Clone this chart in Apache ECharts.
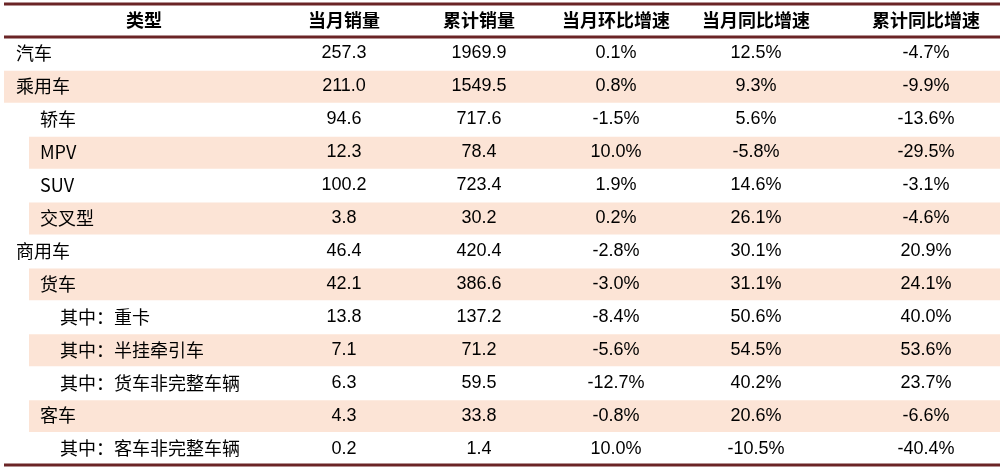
<!DOCTYPE html><html><head><meta charset="utf-8">
<script src="https://cdn.jsdelivr.net/npm/echarts@6/dist/echarts.min.js"></script>
<style>html,body{margin:0;padding:0;background:#fff}#c{width:1007px;height:473px}</style></head><body><div id="c"></div>
<script>
const headers=['类型','当月销量','累计销量','当月环比增速','当月同比增速','累计同比增速'];
const categories=['汽车','乘用车','轿车','MPV','SUV','交叉型','商用车','货车','其中：重卡','其中：半挂牵引车','其中：货车非完整车辆','客车','其中：客车非完整车辆'];
const levels=[0,0,1,1,1,1,0,1,2,2,2,1,2];
const monthSales=['257.3','211.0','94.6','12.3','100.2','3.8','46.4','42.1','13.8','7.1','6.3','4.3','0.2'];
const cumSales=['1969.9','1549.5','717.6','78.4','723.4','30.2','420.4','386.6','137.2','71.2','59.5','33.8','1.4'];
const momGrowth=['0.1%','0.8%','-1.5%','10.0%','1.9%','0.2%','-2.8%','-3.0%','-8.4%','-5.6%','-12.7%','-0.8%','10.0%'];
const yoyGrowth=['12.5%','9.3%','5.6%','-5.8%','14.6%','26.1%','30.1%','31.1%','50.6%','54.5%','40.2%','20.6%','-10.5%'];
const cumYoy=['-4.7%','-9.9%','-13.6%','-29.5%','-3.1%','-4.6%','20.9%','24.1%','40.0%','53.6%','23.7%','-6.6%','-40.4%'];
const colCenters=[140,340,475,612,752,922];
const rows=['header'].concat(categories);
const ch=echarts.init(document.getElementById('c'));
const lineC='#6b2526', shade='#fce4d6';
ch.setOption({animation:false,
grid:{left:4,right:7,top:4,bottom:8},
xAxis:{type:'value',min:0,max:996,show:false},
yAxis:{type:'category',data:rows,inverse:true,show:false},
series:[{type:'custom',data:rows.map((r,i)=>[0,i]),
renderItem(params,api){
 const i=api.value(1);
 const p=api.coord([0,i]);const h=api.size([0,1])[1];
 const top=p[1]-h/2, y=p[1];
 const x0=api.coord([0,0])[0], x1=api.coord([996,0])[0];
 const ch_=[];
 const X=v=>api.coord([v,0])[0];
 if(i===0){
  headers.forEach((t,j)=>ch_.push({type:'text',style:{text:t,x:X(colCenters[j]),y:y,align:'center',verticalAlign:'middle',font:'bold 18px "Noto Sans CJK SC"',fill:'#000'}}));
  ch_.push({type:'line',shape:{x1:x0,y1:top,x2:x1,y2:top},style:{stroke:lineC,lineWidth:3}});
  ch_.push({type:'line',shape:{x1:x0,y1:top+h,x2:x1,y2:top+h},style:{stroke:lineC,lineWidth:3}});
  return {type:'group',children:ch_};
 }
 const k=i-1, lv=levels[k];
 if(k%2===1){const sx=X(lv===0?0:25);ch_.push({type:'rect',shape:{x:sx,y:top+1,width:x1-sx,height:h-1},style:{fill:shade}});}
 ch_.push({type:'text',style:{text:categories[k],x:X([12,36,56][lv]),y:y,verticalAlign:'middle',font:'18px "Noto Sans CJK SC"',fill:'#000'}});
 [monthSales,cumSales,momGrowth,yoyGrowth,cumYoy].forEach((a,j)=>ch_.push({type:'text',style:{text:a[k],x:X(colCenters[j+1]),y:y,align:'center',verticalAlign:'middle',font:'18px "Liberation Sans"',fill:'#000'}}));
 if(k===categories.length-1) ch_.push({type:'line',shape:{x1:x0,y1:top+h,x2:x1,y2:top+h},style:{stroke:lineC,lineWidth:3}});
 return {type:'group',children:ch_};
}}]});
</script></body></html>
